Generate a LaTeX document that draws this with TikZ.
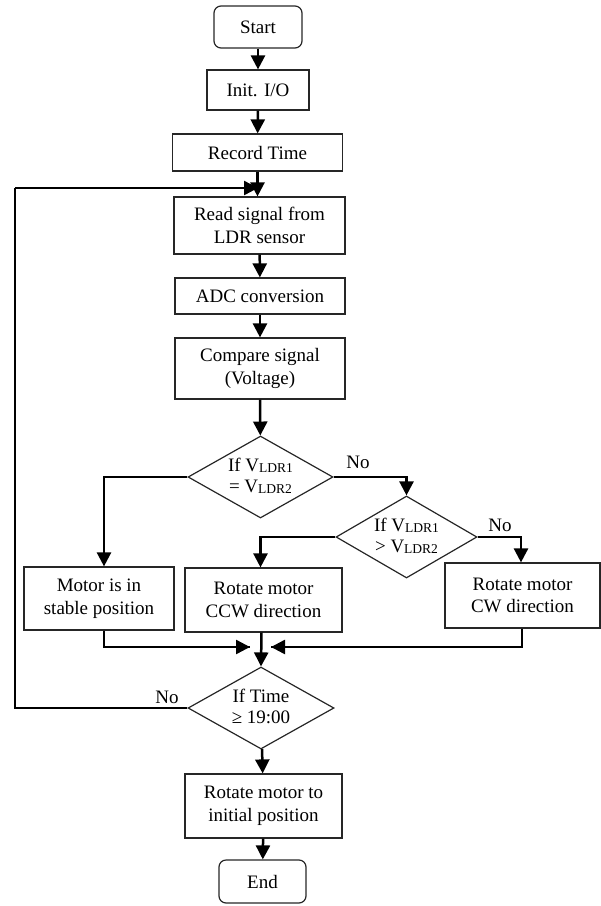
\documentclass[tikz,border=0pt]{standalone}
\usepackage{fontspec}
\setmainfont{Liberation Serif}
\usetikzlibrary{shapes.geometric,arrows.meta}
\newcommand{\vldr}[1]{V\raisebox{-1pt}{\fontsize{13.5}{14}\selectfont LDR#1}}
\newcommand{\dtext}[2]{\makebox[0pt]{\smash{\raisebox{-5pt}{\begin{tabular}{@{}c@{}}#1\\[-2pt]#2\end{tabular}}}}}
\begin{document}
\begin{tikzpicture}[x=1pt,y=-1pt,
  font=\fontsize{19}{22.5}\selectfont,
  box/.style={draw=black!85,line width=1.2pt,inner sep=0pt,align=center},
  term/.style={box,rounded corners=7pt},
  dec/.style={diamond,draw=black!85,line width=1.2pt,inner sep=0pt,minimum width=145pt,minimum height=82pt},
  conn/.style={line width=2.5pt,-{Triangle[length=14pt,width=14pt]}},
  line/.style={line width=2.5pt},
  lbl/.style={inner sep=0pt}]
\useasboundingbox (0,0) rectangle (601,906);
\node[term,minimum width=88pt,minimum height=42pt] (start) at (258,27) {Start};
\node[box,minimum width=102pt,minimum height=40pt] (init) at (258,90) {Init. I/O};
\node[box,minimum width=170pt,minimum height=37pt] (rec) at (257.5,152.5) {Record Time};
\node[box,minimum width=171pt,minimum height=57pt] (read) at (259.5,225.5) {Read signal from\\LDR sensor};
\node[box,minimum width=170pt,minimum height=36pt] (adc) at (260,296) {ADC conversion};
\node[box,minimum width=170pt,minimum height=61pt] (cmp) at (260,368.5) {Compare signal\\(Voltage)};
\node[dec] (d1) at (260.5,477) {\dtext{If \vldr{1}}{= \vldr{2}}};
\node[dec,minimum width=141pt] (d2) at (406.5,537) {\dtext{If \vldr{1}}{> \vldr{2}}};
\node[box,minimum width=150pt,minimum height=63pt] (motor) at (99,598.5) {Motor is in\\stable position};
\node[box,minimum width=157pt,minimum height=64pt] (ccw) at (263.5,600) {Rotate motor\\CCW direction};
\node[box,minimum width=155pt,minimum height=65pt] (cw) at (522.5,595.5) {Rotate motor\\CW direction};
\node[dec,minimum width=146pt] (d3) at (261,708) {\dtext{If Time}{≥ 19:00}};
\node[box,minimum width=157pt,minimum height=64pt] (rot) at (263.5,806) {Rotate motor to\\initial position};
\node[term,minimum width=87pt,minimum height=43pt] (end) at (262.5,881.5) {End};
\node[lbl] (no1) at (358,462) {No};
\node[lbl] (no2) at (500,525) {No};
\node[lbl] (no3) at (167,697) {No};
\coordinate (j1) at (258,188);
\coordinate (lc) at (15,188);
\coordinate (ld) at (15,708);
\coordinate (ml) at (250,647);
\coordinate (mr) at (271,647);
\draw[conn] (start) -- (init);
\draw[conn] (init) -- (rec);
\draw[conn] (rec.south) -- (read.north -| rec.south);
\draw[conn] (read) -- (adc);
\draw[conn] (adc) -- (cmp);
\draw[conn] (cmp) -- (d1);
\draw[conn] (d1.west) -| ([xshift=5pt]motor.north);
\draw[conn] (d1.east) -| (d2.north);
\draw[conn] (d2.west) -| ([xshift=-3pt]ccw.north);
\draw[conn] (d2.east) -| ([xshift=-1.5pt]cw.north);
\draw[line] ([xshift=5pt]motor.south) |- (ml);
\draw[conn] ([xshift=5pt]motor.south |- ml) -- (ml);
\draw[line] ([xshift=-0.5pt]cw.south) |- (mr);
\draw[conn] ([xshift=-0.5pt]cw.south |- mr) -- (mr);
\draw[conn] ([xshift=-2pt]ccw.south) -- (d3.north);
\draw[conn] (d3) -- (rot);
\draw[conn] (rot) -- (end);
\draw[line] (d3.west) -- (ld) -- (lc);
\draw[conn] (lc) -- (j1);
\end{tikzpicture}
\end{document}
